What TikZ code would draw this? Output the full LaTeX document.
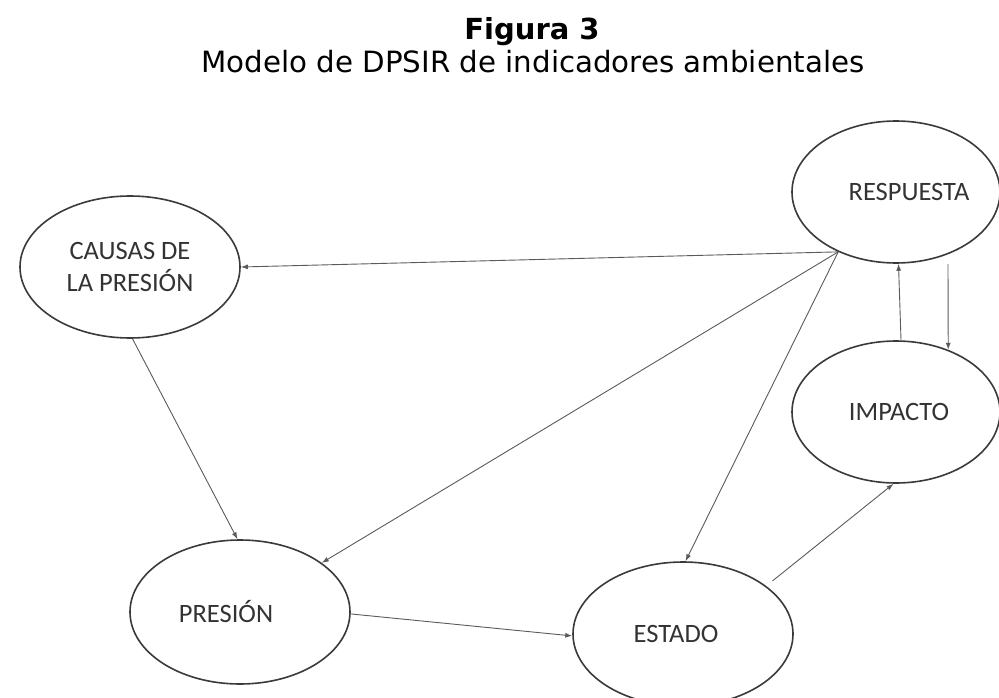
\documentclass[tikz,border=0pt]{standalone}
\usepackage{fontspec}
\setmainfont{DejaVu Sans}
\newfontfamily\nodefont{Carlito}
\usetikzlibrary{shapes.geometric,arrows.meta}
\definecolor{elline}{HTML}{3A3A3A}
\definecolor{conline}{HTML}{5A5A5A}
\definecolor{labtext}{HTML}{333333}
\tikzset{
  state/.style={ellipse, draw=elline, line width=1.6pt, inner sep=0pt,
    minimum width=#1, minimum height=142pt, font=\nodefont\fontsize{26.5}{32}\selectfont,
    text=labtext, align=center},
  state/.default=220pt,
  arr/.style={draw=conline, line width=0.9pt, -{Latex[length=7pt,width=5pt]}},
}
\begin{document}
\begin{tikzpicture}[x=1pt,y=-1pt]
\useasboundingbox (0,0) rectangle (999,698);
% titles
\node[anchor=base, font=\bfseries\fontsize{29}{34}\selectfont] (title) at (532,40) {Figura 3};
\node[anchor=base, font=\fontsize{29.3}{34}\selectfont] (subtitle) at (533,73) {Modelo de DPSIR de indicadores ambientales};
% nodes
\node[state=208pt] (RESP) at (896,192) {\hspace*{26pt}RESPUESTA};
\node[state=220pt] (CAUS) at (130,267) {CAUSAS DE\\LA PRESIÓN};
\node[state=208pt] (IMP) at (896,412) {\hspace*{6pt}IMPACTO};
\node[state=220pt, minimum height=144pt] (PRES) at (240,612) {\hspace*{-28pt}PRESIÓN};
\node[state=220pt, minimum height=144pt] (EST) at (683,634) {ESTADO\hspace*{14pt}};
% connectors
\draw[arr] (RESP.226) -- (CAUS.0);
\draw[arr] (RESP.226) -- (PRES.31);
\draw[arr] (RESP.226) -- (EST.88);
\draw[arr] (CAUS.272) -- (PRES.92);
\draw[arr] (PRES.359) -- (EST.181);
\draw[arr, shorten <=8pt] (EST.30) -- (IMP.268);
\draw[arr] (IMP.86) -- (RESP.272);
\draw[arr] ([xshift=52pt]RESP.south) -- (IMP.50);
\end{tikzpicture}
\end{document}
